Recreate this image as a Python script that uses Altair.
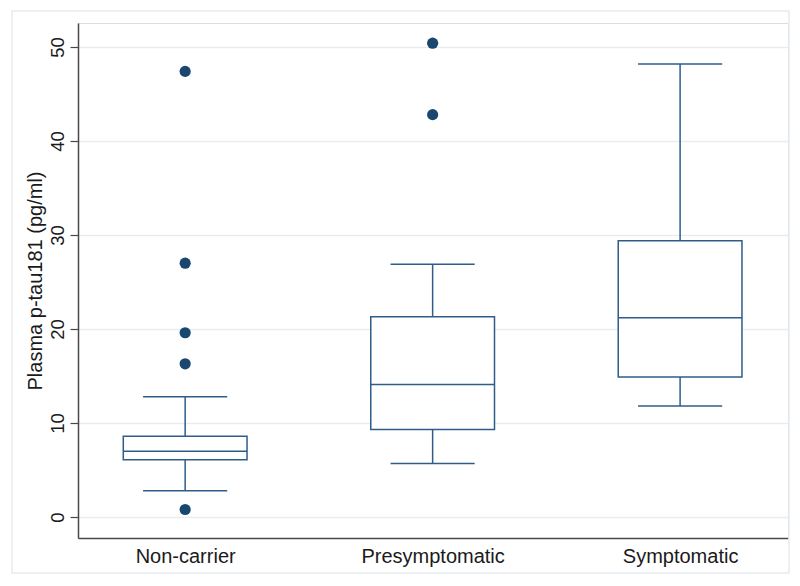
import altair as alt
import pandas as pd

# ---- data ----
groups = ["Non-carrier", "Presymptomatic", "Symptomatic"]
q1 = [6.1, 9.3, 14.9]
median = [7.0, 14.1, 21.2]
q3 = [8.6, 21.3, 29.4]
whisk_lo = [2.8, 5.7, 11.8]
whisk_hi = [12.8, 26.9, 48.2]

outlier_group = ["Non-carrier", "Non-carrier", "Non-carrier", "Non-carrier", "Non-carrier",
                 "Presymptomatic", "Presymptomatic"]
outlier_value = [47.4, 27.0, 19.6, 16.3, 0.8, 50.4, 42.8]

y_ticks = [0, 10, 20, 30, 40, 50]

# ---- tables ----
box_df = pd.DataFrame({
    "group": groups,
    "pos": [i + 1 for i in range(len(groups))],
    "q1": q1, "median": median, "q3": q3,
    "lo": whisk_lo, "hi": whisk_hi,
})
out_df = pd.DataFrame({
    "group": outlier_group,
    "value": outlier_value,
})
out_df["pos"] = out_df["group"].map({g: i + 1 for i, g in enumerate(groups)})

NAVY = "#1a476f"
LINE = "#2f5d8a"
FONT = "Liberation Sans"

xscale = alt.Scale(domain=[0.567, 3.436], nice=False, zero=False)
yscale = alt.Scale(domain=[-2.23, 52.55], nice=False, zero=False)

label_expr = "[" + ",".join("'" + g + "'" for g in groups) + "][datum.value - 1]"

x_axis = alt.Axis(values=[1, 2, 3], labelExpr=label_expr, title=None, grid=False,
                  ticks=False, labelPadding=8, labelFontSize=20, labelFont=FONT,
                  labelColor="#1a1a1a", domainColor="#4a4a4a", domainWidth=1.5)
y_axis = alt.Axis(values=y_ticks, title="Plasma p-tau181 (pg/ml)", grid=True,
                  gridColor="#e6edf1", gridWidth=1.3,
                  labelAngle=-90, labelAlign="center", labelBaseline="bottom",
                  labelPadding=3, labelFontSize=18.5, labelFont=FONT, labelColor="#1a1a1a",
                  tickSize=8, tickColor="#4a4a4a", tickWidth=1.2,
                  titleFontSize=20, titleFont=FONT, titleFontWeight="normal",
                  titleColor="#1a1a1a", titlePadding=3,
                  domainColor="#4a4a4a", domainWidth=1.5)

base = alt.Chart(box_df).transform_calculate(
    bx1="datum.pos - 0.25", bx2="datum.pos + 0.25",
    cx1="datum.pos - 0.17", cx2="datum.pos + 0.17",
)

frame = alt.Chart(pd.DataFrame({"a": [0]})).mark_rect(
    fill=None, stroke="#e3ebef", strokeWidth=1.5
).encode(x=alt.value(-66), x2=alt.value(711), y=alt.value(-12), y2=alt.value(550))

upper_whisker = base.mark_rule(color=LINE, strokeWidth=1.5).encode(
    x=alt.X("pos:Q", scale=xscale, axis=x_axis),
    y=alt.Y("q3:Q", scale=yscale, axis=y_axis),
    y2="hi:Q",
)
lower_whisker = base.mark_rule(color=LINE, strokeWidth=1.5).encode(
    x="pos:Q", y="lo:Q", y2="q1:Q",
)
caps_hi = base.mark_rule(color=LINE, strokeWidth=1.5).encode(
    x="cx1:Q", x2="cx2:Q", y="hi:Q",
)
caps_lo = base.mark_rule(color=LINE, strokeWidth=1.5).encode(
    x="cx1:Q", x2="cx2:Q", y="lo:Q",
)
boxes = base.mark_rect(fill="white", stroke=LINE, strokeWidth=1.5).encode(
    x="bx1:Q", x2="bx2:Q", y="q1:Q", y2="q3:Q",
)
medians = base.mark_rule(color=LINE, strokeWidth=1.5).encode(
    x="bx1:Q", x2="bx2:Q", y="median:Q",
)
points = alt.Chart(out_df).mark_circle(color=NAVY, opacity=1, size=125).encode(
    x="pos:Q", y="value:Q",
)

chart = alt.layer(
    frame, upper_whisker, lower_whisker, caps_hi, caps_lo, boxes, medians, points
).properties(
    width=710, height=515,
    autosize=alt.AutoSizeParams(type="none"),
    padding={"left": 70, "top": 15, "right": 4, "bottom": 40},
).configure_view(stroke=None).configure(background="white")

chart.save("out.html", embed_options={"renderer": "svg", "actions": False})
